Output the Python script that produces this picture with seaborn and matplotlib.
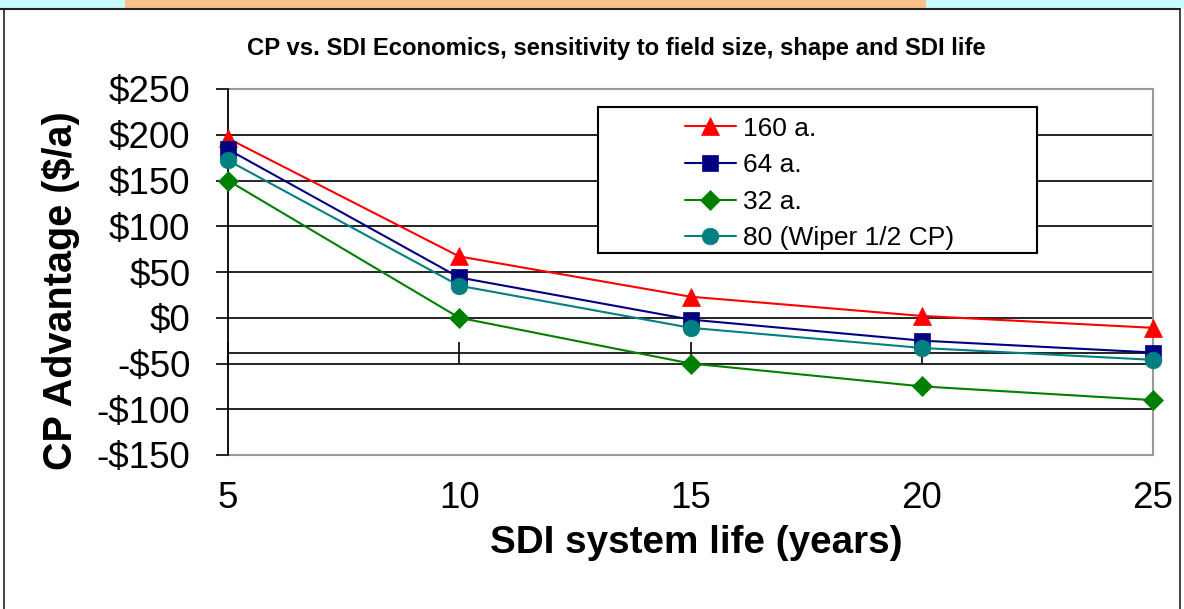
import matplotlib
matplotlib.use("Agg")
import matplotlib.pyplot as plt
from matplotlib.lines import Line2D
from matplotlib.patches import Rectangle
import seaborn as sns
import pandas as pd

# ---- data ----
life_years = [5, 10, 15, 20, 25]
series_names = ["160 a.", "64 a.", "32 a.", "80 (Wiper 1/2 CP)"]
adv_160 = [196, 67, 23, 2, -11]
adv_64 = [184, 44, -2, -25, -38]
adv_32 = [150, 0, -50, -75, -90]
adv_80 = [172, 35, -11, -33, -46]
y_ticks = [-150, -100, -50, 0, 50, 100, 150, 200, 250]
x_ticks = [5, 10, 15, 20, 25]

colors = ["#FF0000", "#000080", "#008000", "#008080"]
markers = ["^", "s", "D", "o"]
msizes = [13, 11.5, 10.5, 12]

sns.set_style("white")
plt.rcParams["font.family"] = ["Liberation Sans", "DejaVu Sans"]
plt.rcParams["text.color"] = "black"
plt.rcParams["axes.labelcolor"] = "black"
plt.rcParams["xtick.color"] = "black"
plt.rcParams["ytick.color"] = "black"

W, H = 1184, 609
fig = plt.figure(figsize=(W / 100, H / 100), dpi=100)
fig.patch.set_facecolor("white")

# banner strip and frame
fig.add_artist(Rectangle((0, 1 - 8 / H), 1, 8 / H, transform=fig.transFigure,
                         facecolor="#C8FCFC", edgecolor="none"))
fig.add_artist(Rectangle((125 / W, 1 - 8 / H), (926 - 125) / W, 8 / H,
                         transform=fig.transFigure, facecolor="#F9C08E", edgecolor="none"))
fig.add_artist(Line2D([0, 1180 / W], [1 - 9 / H, 1 - 9 / H], transform=fig.transFigure,
                      color="#222222", lw=1.5))
fig.add_artist(Line2D([4 / W, 4 / W], [0, 1 - 9 / H], transform=fig.transFigure,
                      color="#222222", lw=1.2))
fig.add_artist(Line2D([1180 / W, 1180 / W], [0, 1 - 9 / H], transform=fig.transFigure,
                      color="#222222", lw=1.2))

ax = fig.add_axes([228 / W, (H - 455) / H, 925 / W, 366 / H])
ax.set_facecolor("white")

all_vals = [adv_160, adv_64, adv_32, adv_80]
for name, vals, c, m, ms in zip(series_names, all_vals, colors, markers, msizes):
    df = pd.DataFrame({"life": life_years, "adv": vals})
    sns.lineplot(data=df, x="life", y="adv", ax=ax, color=c, marker=m,
                 markersize=ms, markeredgecolor=c, markeredgewidth=0.5,
                 linewidth=1.5, label=name, legend=False)

for ln in ax.lines:
    ln.set_clip_on(False)
    ln.set_zorder(4)

ax.set_xlim(5, 25)
ax.set_ylim(-150, 250)
ax.set_yticks(y_ticks)
ax.set_yticklabels([f"${v}" if v >= 0 else f"-${-v}" for v in y_ticks])
ax.set_xticks(x_ticks)
ax.set_xticklabels([str(v) for v in x_ticks])

ax.grid(False)
ax.yaxis.grid(True, color="black", linewidth=1.2)
ax.set_axisbelow(True)

for s in ["top", "right", "bottom"]:
    ax.spines[s].set_color("#999999")
    ax.spines[s].set_linewidth(1.5)
ax.spines["left"].set_color("black")
ax.spines["left"].set_linewidth(1.3)
ax.spines["left"].set_zorder(3)

ax.tick_params(axis="y", direction="out", length=8.6, width=1.2, color="black",
               labelsize=26.5, pad=18.5, left=True, labelcolor="black")
ax.tick_params(axis="x", length=0, labelsize=26.5, pad=19, labelcolor="black")

# category axis crossing at about -40
sec = ax.secondary_xaxis(0.278)
sec.set_xticks(x_ticks)
sec.tick_params(direction="inout", length=16.5, width=1.2, color="black",
                labelbottom=False, labeltop=False)
for s in sec.spines.values():
    s.set_color("black")
    s.set_linewidth(1.2)

ax.set_xlabel("SDI system life (years)", fontsize=27.8, fontweight="bold", color="black")
ax.xaxis.set_label_coords((696 - 228) / 925, (455 - 543) / 366)
ax.xaxis.label.set_va("center")
ax.set_ylabel("CP Advantage ($/a)", fontsize=28.5, fontweight="bold", color="black")
ax.yaxis.set_label_coords((61 - 228) / 925, (455 - 291) / 366)
ax.yaxis.label.set_va("center")

ax.set_title("CP vs. SDI Economics, sensitivity to field size, shape and SDI life",
             fontsize=17.2, fontweight="bold", x=(616 - 228) / 925,
             y=(455 - 49) / 366, va="center", ha="center", pad=0, color="black")

# legend box
fig.add_artist(Rectangle((598 / W, 1 - 253 / H), (1037 - 598) / W, (253 - 107) / H,
                         transform=fig.transFigure, facecolor="white",
                         edgecolor="black", lw=1.5, zorder=5))
handles = ax.lines[:4]
leg = fig.legend(handles, series_names, loc="center left",
                 bbox_to_anchor=(685 / W, 1 - 183.5 / H), bbox_transform=fig.transFigure,
                 frameon=False, fontsize=19, handlelength=1.93, handletextpad=0.27,
                 labelspacing=0.48, borderpad=0, borderaxespad=0)
for t in leg.get_texts():
    t.set_color("black")
leg.set_zorder(6)

fig.savefig("out.png", dpi=100)
